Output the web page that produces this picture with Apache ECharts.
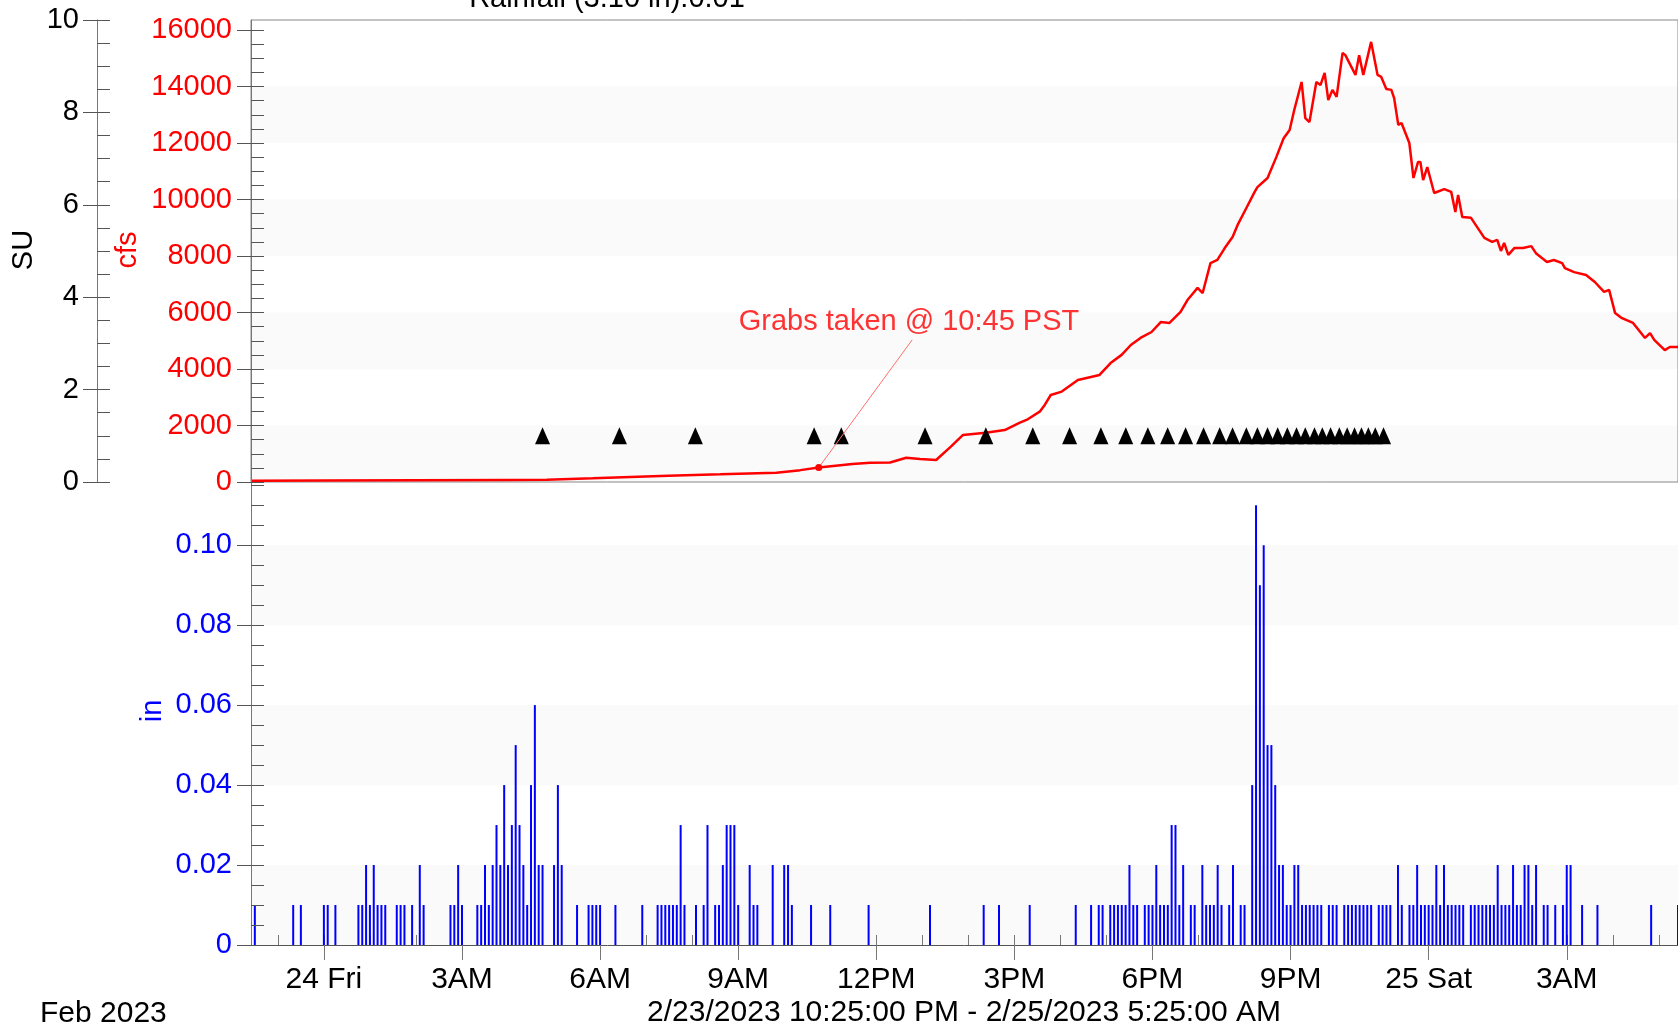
<!DOCTYPE html>
<html><head><meta charset="utf-8">
<script src="https://cdn.jsdelivr.net/npm/echarts@6/dist/echarts.min.js"></script>
<style>html,body{margin:0;padding:0;background:#fff}#c{width:1678px;height:1030px}</style>
</head><body><div id="c"></div>
<script>
// ---------------- data ----------------
const rangeStart = '23 22:25';
const rangeEnd = '25 05:25';
const xTickHours = [0, 3, 6, 9, 12, 15, 18, 21, 24, 27];
const xTickLabels = ['24 Fri', '3AM', '6AM', '9AM', '12PM', '3PM', '6PM', '9PM', '25 Sat', '3AM'];
const cfsTicks = [0, 2000, 4000, 6000, 8000, 10000, 12000, 14000, 16000];
const suTicks = [0, 2, 4, 6, 8, 10];
const rainTicks = [0, 0.02, 0.04, 0.06, 0.08, 0.10];
const cfsMax = 16354, suMax = 10, rainMax = 0.1158;

// flow [hours after midnight Feb 24, cfs]
const flowSeries = [
 [-1.58,40],[0,50],[2,60],[4,75],[4.84,80],[5.84,130],[6.66,180],[7.48,225],[8.61,270],[9.83,330],
 [10.35,420],[10.75,510],[11.48,637],[11.87,680],[12.30,690],[12.65,860],[12.95,814],[13.30,780],
 [13.62,1250],[13.88,1660],[14.38,1745],[14.79,1840],[15.12,2100],[15.29,2220],[15.55,2490],[15.66,2730],
 [15.79,3080],[16.03,3200],[16.38,3610],[16.85,3790],[17.09,4210],[17.33,4500],[17.53,4850],[17.74,5100],
 [17.98,5310],[18.18,5660],[18.37,5630],[18.61,6020],[18.76,6440],[18.98,6870],[19.09,6690],[19.26,7750],
 [19.41,7860],[19.57,8280],[19.74,8670],[19.85,9100],[20.04,9700],[20.22,10270],[20.28,10440],[20.50,10760],
 [20.69,11500],[20.85,12170],[20.98,12460],[21.08,13170],[21.24,14160],[21.32,12880],[21.41,12740],[21.56,14160],
 [21.65,14050],[21.74,14480],[21.82,13520],[21.91,13880],[22.00,13630],[22.13,15190],[22.19,15110],[22.41,14410],
 [22.49,15110],[22.58,14410],[22.75,15580],[22.89,14410],[22.97,14340],[23.08,13910],[23.19,13880],[23.25,13590],
 [23.34,12640],[23.41,12710],[23.58,12000],[23.67,10760],[23.77,11330],[23.82,11330],[23.88,10690],[23.97,11150],
 [24.12,10230],[24.34,10370],[24.49,10270],[24.58,9560],[24.64,10160],[24.73,9380],[24.92,9350],[25.21,8640],
 [25.38,8500],[25.49,8570],[25.57,8180],[25.64,8460],[25.73,8040],[25.86,8280],[26.05,8280],[26.23,8350],
 [26.33,8100],[26.57,7790],[26.72,7860],[26.90,7750],[26.96,7570],[27.16,7430],[27.42,7330],[27.61,7080],
 [27.81,6730],[27.92,6800],[28.05,5980],[28.20,5800],[28.44,5630],[28.70,5100],[28.81,5270],[28.90,5030],
 [29.13,4670],[29.24,4780],[29.42,4780]
];

// sample markers (hours) plotted at SU = 1
const sampleHours = [4.75,6.42,8.07,10.65,11.24,13.06,14.38,15.40,16.20,16.88,17.42,17.90,18.33,18.72,
 19.11,19.46,19.74,20.04,20.28,20.50,20.72,20.93,21.13,21.32,21.52,21.69,21.87,22.06,22.23,22.39,22.54,
 22.69,22.84,23.02];
const sampleSU = [1,1,1,1,1,1,1,1,1,1,1,1,1,1,1,1,1,1,1,1,1,1,1,1,1,1,1,1,1,1,1,1,1,1];

// grab annotation
const grabHour = 10.75, grabCfs = 510;
const grabText = 'Grabs taken @ 10:45 PST';

// rainfall, 5-minute increments [day hh:mm, inches]
const rainSeries = [
 ['23 22:30',.01],['23 23:20',.01],['23 23:30',.01],
 ['24 00:00',.01],['24 00:05',.01],['24 00:15',.01],['24 00:45',.01],['24 00:50',.01],['24 00:55',.02],
 ['24 01:00',.01],['24 01:05',.02],['24 01:10',.01],['24 01:15',.01],['24 01:20',.01],['24 01:35',.01],
 ['24 01:40',.01],['24 01:45',.01],['24 01:55',.01],['24 02:05',.02],['24 02:10',.01],['24 02:45',.01],
 ['24 02:50',.01],['24 02:55',.02],['24 03:00',.01],['24 03:20',.01],['24 03:25',.01],['24 03:30',.02],
 ['24 03:35',.01],['24 03:40',.02],['24 03:45',.03],['24 03:50',.02],['24 03:55',.04],['24 04:00',.02],
 ['24 04:05',.03],['24 04:10',.05],['24 04:15',.03],['24 04:20',.02],['24 04:25',.01],['24 04:30',.04],
 ['24 04:35',.06],['24 04:40',.02],['24 04:45',.02],['24 05:00',.02],['24 05:05',.04],['24 05:10',.02],
 ['24 05:30',.01],['24 05:45',.01],['24 05:50',.01],['24 05:55',.01],['24 06:00',.01],['24 06:20',.01],
 ['24 06:55',.01],['24 07:15',.01],['24 07:20',.01],['24 07:25',.01],['24 07:30',.01],['24 07:35',.01],
 ['24 07:40',.01],['24 07:45',.03],['24 07:50',.01],['24 08:05',.01],['24 08:15',.01],['24 08:20',.03],
 ['24 08:30',.01],['24 08:35',.01],['24 08:40',.02],['24 08:45',.03],['24 08:50',.03],['24 08:55',.03],
 ['24 09:00',.01],['24 09:15',.02],['24 09:20',.01],['24 09:25',.01],['24 09:45',.02],['24 10:00',.02],
 ['24 10:05',.02],['24 10:10',.01],['24 10:35',.01],['24 11:00',.01],['24 11:50',.01],['24 13:10',.01],
 ['24 14:20',.01],['24 14:40',.01],['24 15:20',.01],['24 16:20',.01],['24 16:40',.01],['24 16:50',.01],
 ['24 16:55',.01],['24 17:05',.01],['24 17:10',.01],['24 17:15',.01],['24 17:20',.01],['24 17:25',.01],
 ['24 17:30',.02],['24 17:35',.01],['24 17:40',.01],['24 17:50',.01],['24 17:55',.01],['24 18:00',.01],
 ['24 18:05',.02],['24 18:10',.01],['24 18:15',.01],['24 18:20',.01],['24 18:25',.03],['24 18:30',.03],
 ['24 18:35',.01],['24 18:40',.02],['24 18:50',.01],['24 18:55',.01],['24 19:05',.02],['24 19:10',.01],
 ['24 19:15',.01],['24 19:20',.01],['24 19:25',.02],['24 19:30',.01],['24 19:40',.01],['24 19:45',.02],
 ['24 19:55',.01],['24 20:00',.01],['24 20:10',.04],['24 20:15',.11],['24 20:20',.09],['24 20:25',.10],
 ['24 20:30',.05],['24 20:35',.05],['24 20:40',.04],['24 20:45',.02],['24 20:50',.02],['24 20:55',.01],
 ['24 21:00',.01],['24 21:05',.02],['24 21:10',.02],['24 21:15',.01],['24 21:20',.01],['24 21:25',.01],
 ['24 21:30',.01],['24 21:35',.01],['24 21:40',.01],['24 21:50',.01],['24 21:55',.01],['24 22:00',.01],
 ['24 22:10',.01],['24 22:15',.01],['24 22:20',.01],['24 22:25',.01],['24 22:30',.01],['24 22:35',.01],
 ['24 22:40',.01],['24 22:45',.01],['24 22:55',.01],['24 23:00',.01],['24 23:05',.01],['24 23:10',.01],
 ['24 23:20',.02],['24 23:25',.01],['24 23:35',.01],['24 23:40',.01],['24 23:45',.02],['24 23:50',.01],
 ['24 23:55',.01],['25 00:00',.01],['25 00:05',.01],['25 00:10',.02],['25 00:15',.01],['25 00:20',.02],
 ['25 00:25',.01],['25 00:30',.01],['25 00:35',.01],['25 00:40',.01],['25 00:45',.01],['25 00:55',.01],
 ['25 01:00',.01],['25 01:05',.01],['25 01:10',.01],['25 01:15',.01],['25 01:20',.01],['25 01:25',.01],
 ['25 01:30',.02],['25 01:35',.01],['25 01:40',.01],['25 01:45',.01],['25 01:50',.02],['25 01:55',.01],
 ['25 02:00',.01],['25 02:05',.02],['25 02:10',.02],['25 02:15',.01],['25 02:20',.02],['25 02:30',.01],
 ['25 02:35',.01],['25 02:45',.01],['25 02:55',.01],['25 03:00',.02],['25 03:05',.02],['25 03:20',.01],
 ['25 03:40',.01],['25 04:50',.01],['25 05:25',.01]
];

// ---------------- chart ----------------
function toHours(s) {
  const parts = s.split(' ');
  const hm = parts[1].split(':').map(Number);
  return (Number(parts[0]) - 24) * 24 + hm[0] + hm[1] / 60;
}
function stepList(a, b, step) { const r = []; for (let i = 0; a + i * step <= b + 1e-9; i++) r.push(+(a + i * step).toFixed(6)); return r; }

const xMin = toHours(rangeStart), xMax = toHours(rangeEnd);
const hourTicks = stepList(-1, 29, 1);
const cfsMinor = stepList(0, 16000, 500);
const suMinor = stepList(0, 10, 0.5);
const rainMinor = stepList(0, 0.115, 0.005);

const FONT = '"Liberation Sans", Arial, Helvetica, sans-serif';
const RED = '#ff0000', BLUE = '#0000ff', BAND = '#fafafa';

const chart = echarts.init(document.getElementById('c'), null, { renderer: 'canvas' });

function yMajor(grid, min, max, ticks, color, fmt, offset, margin) {
  return {
    type: 'value', gridIndex: grid, position: 'left', offset: offset || 0, min: min, max: max, z: 6,
    axisLine: { show: true, onZero: false, lineStyle: { color: '#777', width: 1 } },
    axisTick: { show: true, customValues: ticks, length: 14, lineStyle: { color: '#555' } },
    axisLabel: { show: true, customValues: ticks, color: color, fontSize: 29, fontFamily: FONT, margin: margin, formatter: fmt },
    splitLine: { show: false }
  };
}
function yMinor(grid, min, max, ticks, offset) {
  return {
    type: 'value', gridIndex: grid, position: 'left', offset: offset || 0, min: min, max: max, z: 6,
    axisLine: { show: false, onZero: false },
    axisTick: { show: true, inside: true, customValues: ticks, length: 13, lineStyle: { color: '#555' } },
    axisLabel: { show: false }, splitLine: { show: false }
  };
}

const topBands = [[0, 2000], [4000, 6000], [8000, 10000], [12000, 14000]].map(b => [{ yAxis: b[0] }, { yAxis: b[1] }]);
const rainBands = [[0, 0.02], [0.04, 0.06], [0.08, 0.10]].map(b => [{ yAxis: b[0] }, { yAxis: b[1] }]);

const option = {
  animation: false,
  backgroundColor: '#ffffff',
  grid: [
    { left: 251, top: 20, width: 1428, height: 462, show: true, borderColor: '#888', borderWidth: 1, backgroundColor: 'transparent' },
    { left: 251, top: 482, width: 1428, height: 463 }
  ],
  xAxis: [
    { type: 'value', gridIndex: 0, position: 'bottom', min: xMin, max: xMax, axisLine: { show: false, onZero: false }, axisTick: { show: false }, axisLabel: { show: false }, splitLine: { show: false } },
    { type: 'value', gridIndex: 1, position: 'bottom', min: xMin, max: xMax, z: 6,
      axisLine: { show: true, onZero: false, lineStyle: { color: '#555', width: 1 } },
      axisTick: { show: true, customValues: xTickHours, length: 15, lineStyle: { color: '#777' } },
      axisLabel: { show: true, customValues: xTickHours, margin: 20, color: '#000', fontSize: 30, fontFamily: FONT,
        formatter: v => { const i = xTickHours.indexOf(Math.round(v)); return i >= 0 ? xTickLabels[i] : ''; } },
      splitLine: { show: false } },
    { type: 'value', gridIndex: 1, position: 'bottom', offset: 0, min: xMin, max: xMax, z: 1,
      axisLine: { show: false, onZero: false },
      axisTick: { show: true, inside: true, customValues: hourTicks, length: 10, lineStyle: { color: '#777' } },
      axisLabel: { show: false }, splitLine: { show: false } }
  ],
  yAxis: [
    yMajor(0, 0, cfsMax, cfsTicks, RED, v => String(Math.round(v)), 0, 19),
    yMinor(0, 0, cfsMax, cfsMinor, 0),
    yMajor(0, 0, suMax, suTicks, '#000', v => String(Math.round(v)), 154, 18),
    yMinor(0, 0, suMax, suMinor, 154),
    yMajor(1, 0, rainMax, rainTicks, BLUE, v => (Math.abs(v) < 1e-9 ? '0' : v.toFixed(2)), 0, 19),
    yMinor(1, 0, rainMax, rainMinor, 0)
  ],
  series: [
    { type: 'line', name: 'flow', xAxisIndex: 0, yAxisIndex: 0, data: flowSeries, symbol: 'none', z: 3,
      lineStyle: { color: RED, width: 2.5 },
      markArea: { silent: true, z: -1, itemStyle: { color: BAND }, data: topBands } },
    { type: 'scatter', name: 'samples', xAxisIndex: 0, yAxisIndex: 2, z: 4,
      data: sampleHours.map((h, i) => [h, sampleSU[i]]), symbol: 'triangle', symbolSize: [15, 17],
      itemStyle: { color: '#000', opacity: 1 } },
    { type: 'scatter', name: 'grab', xAxisIndex: 0, yAxisIndex: 0, z: 5,
      data: [[grabHour, grabCfs]], symbol: 'circle', symbolSize: 7, itemStyle: { color: RED, opacity: 1 },
      markLine: { silent: true, symbol: ['none', 'none'], label: { show: false },
        lineStyle: { color: '#ff7070', width: 1, type: 'solid' },
        data: [[{ coord: [grabHour, grabCfs] }, { coord: [12.78, 5030] }]] } },
    { type: 'scatter', name: 'grabLabel', xAxisIndex: 0, yAxisIndex: 0, z: 5,
      data: [[12.71, 5660]], symbolSize: 1, itemStyle: { color: 'rgba(0,0,0,0)' },
      label: { show: true, position: 'inside', formatter: grabText, color: RED, fontSize: 29, fontFamily: FONT } },
    { type: 'bar', name: 'rain', xAxisIndex: 1, yAxisIndex: 4, z: 3,
      data: rainSeries.map(r => [toHours(r[0]), r[1]]), barWidth: 2, itemStyle: { color: BLUE },
      markArea: { silent: true, z: -1, itemStyle: { color: BAND }, data: rainBands } }
  ],
  graphic: [
    { type: 'text', x: 607, y: -1, style: { text: 'Rainfall (3.10 in):0.01', font: '29px ' + FONT, fill: '#000', align: 'center', verticalAlign: 'middle' } },
    { type: 'text', x: 24, y: 250, rotation: Math.PI / 2, style: { text: 'SU', font: '29px ' + FONT, fill: '#000', align: 'center', verticalAlign: 'middle' } },
    { type: 'text', x: 128, y: 250, rotation: Math.PI / 2, style: { text: 'cfs', font: '29px ' + FONT, fill: RED, align: 'center', verticalAlign: 'middle' } },
    { type: 'text', x: 153, y: 711, rotation: Math.PI / 2, style: { text: 'in', font: '29px ' + FONT, fill: BLUE, align: 'center', verticalAlign: 'middle' } },
    { type: 'text', x: 40, y: 1014, style: { text: 'Feb 2023', font: '30px ' + FONT, fill: '#000', align: 'left', verticalAlign: 'middle' } },
    { type: 'text', x: 964, y: 1013, style: { text: '2/23/2023 10:25:00 PM - 2/25/2023 5:25:00 AM', font: '30px ' + FONT, fill: '#000', align: 'center', verticalAlign: 'middle' } }
  ]
};
chart.setOption(option);
</script></body></html>
